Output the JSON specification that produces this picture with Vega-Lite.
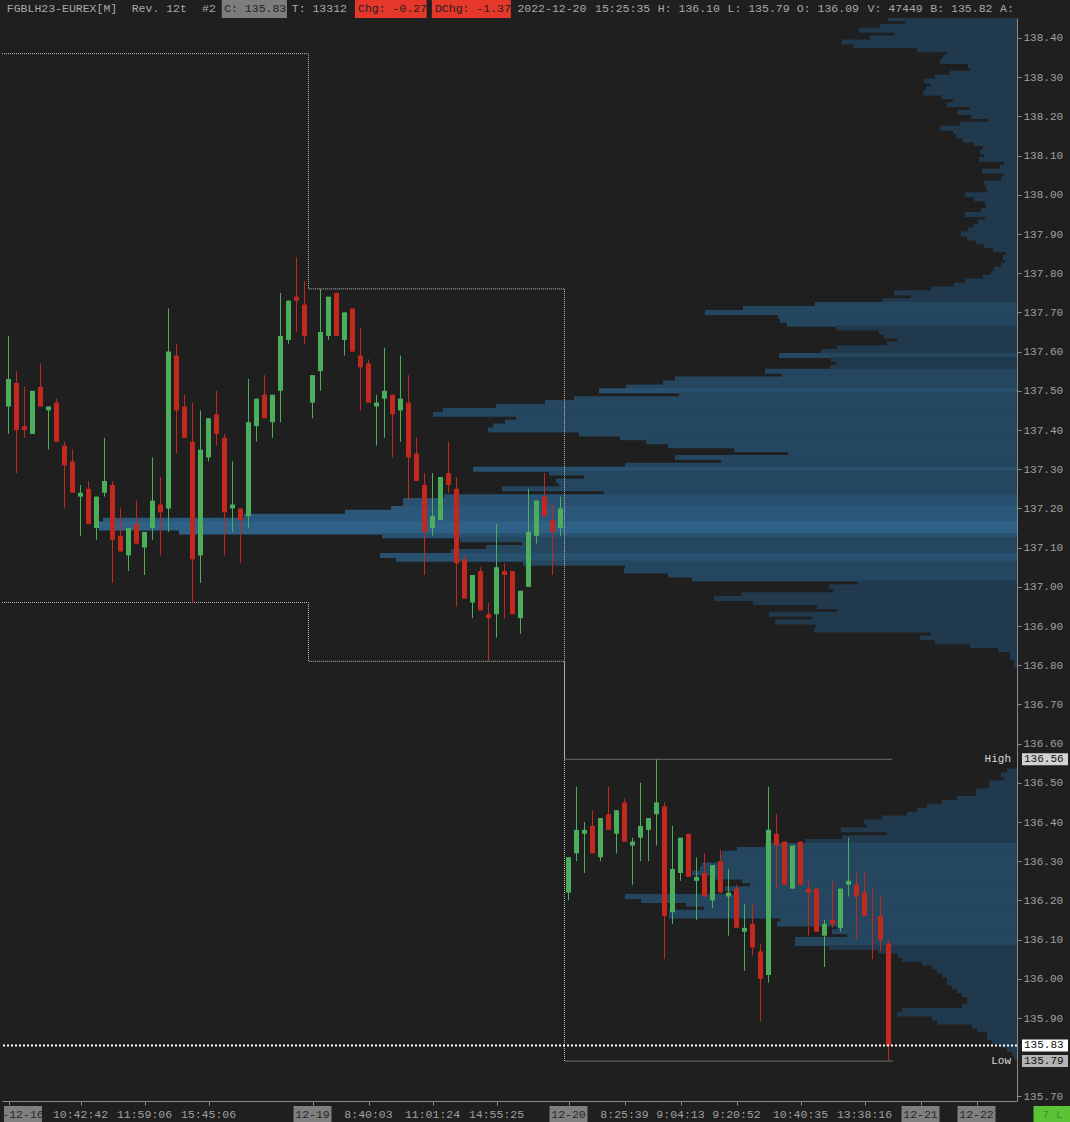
{
"$schema": "https://vega.github.io/schema/vega-lite/v6.json",
"background": "#1f1f1f",
"padding": 0,
"spacing": 0,
"config": {"view": {"stroke": null}},
"resolve": {"scale": {"x": "independent", "y": "independent", "color": "independent"}},
"datasets": {
"hdr": [
{"t":"FGBLH23-EUREX[M]","c":0},
{"t":"Rev. 12t","c":18.1},
{"t":"#2","c":28.3},
{"t":"C: 135.83","c":31.5,"b0":31.15,"b1":40.6},
{"t":"T: 13312","c":41.3},
{"t":"Chg: -0.27","c":50.9,"b0":50.45,"b1":60.85},
{"t":"DChg: -1.37","c":62.05,"b0":61.6,"b1":73.05},
{"t":"2022-12-20","c":74},
{"t":"15:25:35","c":85.25},
{"t":"H: 136.10","c":94.35},
{"t":"L: 135.79","c":104.45},
{"t":"O: 136.09","c":114.5},
{"t":"V: 47449","c":124.75},
{"t":"B: 135.82","c":133.85},
{"t":"A:","c":143.95}
],
"tl": [
{"t":"-12-16","i":1.81},{"t":"10:42:42","i":9},{"t":"11:59:06","i":17},{"t":"15:45:06","i":25},
{"t":"12-19","i":38},{"t":"8:40:03","i":45},{"t":"11:01:24","i":53},{"t":"14:55:25","i":61},
{"t":"12-20","i":70},{"t":"8:25:39","i":77},{"t":"9:04:13","i":84},{"t":"9:20:52","i":91},
{"t":"10:40:35","i":99},{"t":"13:38:16","i":107},{"t":"12-21","i":114},{"t":"12-22","i":121},{"t":"7 L","i":130.5}
],
"sess": [
{"i":-0.8125,"hi":138.36,"lo":136.96},
{"i":37.5,"hi":137.76,"lo":136.81},
{"i":69.5,"hi":136.56,"lo":135.79},
{"i":110.5,"hi":136.56,"lo":135.79}
],
"lv": [
{"p":136.56,"t":"136.56","n":"High"},
{"p":135.83,"t":"135.83","n":""},
{"p":135.79,"t":"135.79","n":"Low"}
],
"candles": [
{"i":0,"o":137.46,"h":137.64,"l":137.39,"c":137.53},
{"i":1,"o":137.52,"h":137.55,"l":137.29,"c":137.40},
{"i":2,"o":137.41,"h":137.51,"l":137.38,"c":137.40},
{"i":3,"o":137.39,"h":137.50,"l":137.39,"c":137.50},
{"i":4,"o":137.51,"h":137.57,"l":137.46,"c":137.46},
{"i":5,"o":137.45,"h":137.46,"l":137.35,"c":137.46},
{"i":6,"o":137.47,"h":137.48,"l":137.37,"c":137.37},
{"i":7,"o":137.36,"h":137.37,"l":137.20,"c":137.31},
{"i":8,"o":137.32,"h":137.35,"l":137.24,"c":137.24},
{"i":9,"o":137.23,"h":137.26,"l":137.13,"c":137.24},
{"i":10,"o":137.25,"h":137.27,"l":137.16,"c":137.16},
{"i":11,"o":137.15,"h":137.23,"l":137.12,"c":137.23},
{"i":12,"o":137.24,"h":137.38,"l":137.23,"c":137.27},
{"i":13,"o":137.26,"h":137.27,"l":137.01,"c":137.12},
{"i":14,"o":137.13,"h":137.20,"l":137.09,"c":137.09},
{"i":15,"o":137.08,"h":137.15,"l":137.04,"c":137.15},
{"i":16,"o":137.16,"h":137.22,"l":137.11,"c":137.11},
{"i":17,"o":137.10,"h":137.14,"l":137.03,"c":137.14},
{"i":18,"o":137.15,"h":137.33,"l":137.12,"c":137.22},
{"i":19,"o":137.21,"h":137.28,"l":137.08,"c":137.19},
{"i":20,"o":137.20,"h":137.71,"l":137.14,"c":137.60},
{"i":21,"o":137.59,"h":137.62,"l":137.34,"c":137.45},
{"i":22,"o":137.46,"h":137.49,"l":137.38,"c":137.38},
{"i":23,"o":137.37,"h":137.47,"l":136.96,"c":137.07},
{"i":24,"o":137.08,"h":137.45,"l":137.01,"c":137.35},
{"i":25,"o":137.33,"h":137.43,"l":137.32,"c":137.43},
{"i":26,"o":137.44,"h":137.50,"l":137.36,"c":137.39},
{"i":27,"o":137.38,"h":137.39,"l":137.08,"c":137.19},
{"i":28,"o":137.20,"h":137.32,"l":137.14,"c":137.21},
{"i":29,"o":137.20,"h":137.20,"l":137.06,"c":137.17},
{"i":30,"o":137.18,"h":137.53,"l":137.15,"c":137.42},
{"i":31,"o":137.41,"h":137.48,"l":137.37,"c":137.48},
{"i":32,"o":137.49,"h":137.54,"l":137.43,"c":137.43},
{"i":33,"o":137.42,"h":137.49,"l":137.38,"c":137.49},
{"i":34,"o":137.50,"h":137.75,"l":137.42,"c":137.64},
{"i":35,"o":137.63,"h":137.73,"l":137.62,"c":137.73},
{"i":36,"o":137.74,"h":137.84,"l":137.65,"c":137.73},
{"i":37,"o":137.72,"h":137.78,"l":137.62,"c":137.64},
{"i":38,"o":137.47,"h":137.54,"l":137.43,"c":137.54},
{"i":39,"o":137.55,"h":137.76,"l":137.50,"c":137.65},
{"i":40,"o":137.64,"h":137.74,"l":137.63,"c":137.74},
{"i":41,"o":137.75,"h":137.75,"l":137.64,"c":137.64},
{"i":42,"o":137.63,"h":137.70,"l":137.59,"c":137.70},
{"i":43,"o":137.71,"h":137.71,"l":137.60,"c":137.60},
{"i":44,"o":137.59,"h":137.66,"l":137.45,"c":137.56},
{"i":45,"o":137.57,"h":137.58,"l":137.47,"c":137.47},
{"i":46,"o":137.46,"h":137.49,"l":137.36,"c":137.47},
{"i":47,"o":137.48,"h":137.61,"l":137.38,"c":137.50},
{"i":48,"o":137.49,"h":137.49,"l":137.33,"c":137.44},
{"i":49,"o":137.45,"h":137.59,"l":137.37,"c":137.48},
{"i":50,"o":137.47,"h":137.54,"l":137.22,"c":137.33},
{"i":51,"o":137.34,"h":137.38,"l":137.27,"c":137.27},
{"i":52,"o":137.26,"h":137.29,"l":137.03,"c":137.14},
{"i":53,"o":137.15,"h":137.29,"l":137.13,"c":137.18},
{"i":54,"o":137.17,"h":137.28,"l":137.17,"c":137.28},
{"i":55,"o":137.29,"h":137.37,"l":137.24,"c":137.26},
{"i":56,"o":137.25,"h":137.28,"l":136.95,"c":137.06},
{"i":57,"o":137.07,"h":137.08,"l":136.97,"c":136.97},
{"i":58,"o":136.96,"h":137.03,"l":136.92,"c":137.03},
{"i":59,"o":137.04,"h":137.05,"l":136.94,"c":136.94},
{"i":60,"o":136.93,"h":136.96,"l":136.81,"c":136.92},
{"i":61,"o":136.93,"h":137.16,"l":136.87,"c":137.05},
{"i":62,"o":137.04,"h":137.06,"l":136.92,"c":137.03},
{"i":63,"o":137.04,"h":137.04,"l":136.93,"c":136.93},
{"i":64,"o":136.92,"h":136.99,"l":136.88,"c":136.99},
{"i":65,"o":137.00,"h":137.25,"l":137.00,"c":137.14},
{"i":66,"o":137.13,"h":137.22,"l":137.11,"c":137.22},
{"i":67,"o":137.23,"h":137.29,"l":137.18,"c":137.18},
{"i":68,"o":137.17,"h":137.21,"l":137.03,"c":137.14},
{"i":69,"o":137.15,"h":137.23,"l":137.13,"c":137.20},
{"i":70,"o":136.22,"h":136.31,"l":136.20,"c":136.31},
{"i":71,"o":136.32,"h":136.49,"l":136.30,"c":136.38},
{"i":72,"o":136.37,"h":136.40,"l":136.27,"c":136.38},
{"i":73,"o":136.39,"h":136.43,"l":136.32,"c":136.32},
{"i":74,"o":136.31,"h":136.41,"l":136.30,"c":136.41},
{"i":75,"o":136.42,"h":136.49,"l":136.38,"c":136.38},
{"i":76,"o":136.37,"h":136.43,"l":136.32,"c":136.43},
{"i":77,"o":136.45,"h":136.46,"l":136.35,"c":136.35},
{"i":78,"o":136.34,"h":136.36,"l":136.24,"c":136.35},
{"i":79,"o":136.36,"h":136.50,"l":136.30,"c":136.39},
{"i":80,"o":136.38,"h":136.41,"l":136.30,"c":136.41},
{"i":81,"o":136.42,"h":136.56,"l":136.34,"c":136.45},
{"i":82,"o":136.44,"h":136.45,"l":136.05,"c":136.16},
{"i":83,"o":136.17,"h":136.39,"l":136.14,"c":136.28},
{"i":84,"o":136.27,"h":136.36,"l":136.25,"c":136.36},
{"i":85,"o":136.37,"h":136.37,"l":136.26,"c":136.26},
{"i":86,"o":136.25,"h":136.31,"l":136.15,"c":136.26},
{"i":87,"o":136.27,"h":136.32,"l":136.21,"c":136.21},
{"i":88,"o":136.20,"h":136.29,"l":136.18,"c":136.29},
{"i":89,"o":136.30,"h":136.33,"l":136.22,"c":136.22},
{"i":90,"o":136.21,"h":136.28,"l":136.11,"c":136.22},
{"i":91,"o":136.23,"h":136.24,"l":136.13,"c":136.13},
{"i":92,"o":136.12,"h":136.19,"l":136.02,"c":136.13},
{"i":93,"o":136.14,"h":136.19,"l":136.06,"c":136.08},
{"i":94,"o":136.07,"h":136.09,"l":135.89,"c":136.00},
{"i":95,"o":136.01,"h":136.49,"l":135.99,"c":136.38},
{"i":96,"o":136.37,"h":136.42,"l":136.23,"c":136.34},
{"i":97,"o":136.35,"h":136.35,"l":136.24,"c":136.24},
{"i":98,"o":136.23,"h":136.34,"l":136.23,"c":136.34},
{"i":99,"o":136.35,"h":136.35,"l":136.24,"c":136.24},
{"i":100,"o":136.23,"h":136.25,"l":136.11,"c":136.22},
{"i":101,"o":136.23,"h":136.23,"l":136.12,"c":136.12},
{"i":102,"o":136.11,"h":136.15,"l":136.03,"c":136.14},
{"i":103,"o":136.15,"h":136.25,"l":136.13,"c":136.14},
{"i":104,"o":136.13,"h":136.23,"l":136.12,"c":136.23},
{"i":105,"o":136.24,"h":136.36,"l":136.21,"c":136.25},
{"i":106,"o":136.24,"h":136.27,"l":136.10,"c":136.21},
{"i":107,"o":136.22,"h":136.27,"l":136.16,"c":136.16},
{"i":108,"o":136.151,"h":136.23,"l":136.05,"c":136.149},
{"i":109,"o":136.16,"h":136.21,"l":136.07,"c":136.10},
{"i":110,"o":136.09,"h":136.10,"l":135.79,"c":135.83}
],
"prof": [
{"p":138.45,"v":129,"s":"out"},{"p":138.44,"v":112,"s":"out"},{"p":138.43,"v":137,"s":"out"},{"p":138.42,"v":158,"s":"out"},{"p":138.41,"v":123,"s":"out"},
{"p":138.40,"v":147,"s":"out"},{"p":138.39,"v":175,"s":"out"},{"p":138.38,"v":164,"s":"out"},{"p":138.37,"v":100,"s":"out"},{"p":138.36,"v":70,"s":"out"},
{"p":138.35,"v":74,"s":"out"},{"p":138.34,"v":77,"s":"out"},{"p":138.33,"v":49,"s":"out"},{"p":138.32,"v":47,"s":"out"},{"p":138.31,"v":67,"s":"out"},
{"p":138.30,"v":82,"s":"out"},{"p":138.29,"v":93,"s":"out"},{"p":138.28,"v":87,"s":"out"},{"p":138.27,"v":91,"s":"out"},{"p":138.26,"v":94,"s":"out"},
{"p":138.25,"v":76,"s":"out"},{"p":138.24,"v":64,"s":"out"},{"p":138.23,"v":70,"s":"out"},{"p":138.22,"v":47,"s":"out"},{"p":138.21,"v":60,"s":"out"},
{"p":138.20,"v":46,"s":"out"},{"p":138.19,"v":29,"s":"out"},{"p":138.18,"v":57,"s":"out"},{"p":138.17,"v":77,"s":"out"},{"p":138.16,"v":64,"s":"out"},
{"p":138.15,"v":61,"s":"out"},{"p":138.14,"v":54,"s":"out"},{"p":138.13,"v":43,"s":"out"},{"p":138.12,"v":34,"s":"out"},{"p":138.11,"v":37,"s":"out"},
{"p":138.10,"v":33,"s":"out"},{"p":138.09,"v":38,"s":"out"},{"p":138.08,"v":13,"s":"out"},{"p":138.07,"v":17,"s":"out"},{"p":138.06,"v":35,"s":"out"},
{"p":138.05,"v":13,"s":"out"},{"p":138.04,"v":16,"s":"out"},{"p":138.03,"v":33,"s":"out"},{"p":138.02,"v":31,"s":"out"},{"p":138.01,"v":30,"s":"out"},
{"p":138.00,"v":52,"s":"out"},{"p":137.99,"v":43,"s":"out"},{"p":137.98,"v":32,"s":"out"},{"p":137.97,"v":31,"s":"out"},{"p":137.96,"v":36,"s":"out"},
{"p":137.95,"v":52,"s":"out"},{"p":137.94,"v":32,"s":"out"},{"p":137.93,"v":39,"s":"out"},{"p":137.92,"v":44,"s":"out"},{"p":137.91,"v":49,"s":"out"},
{"p":137.90,"v":56,"s":"out"},{"p":137.89,"v":50,"s":"out"},{"p":137.88,"v":41,"s":"out"},{"p":137.87,"v":33,"s":"out"},{"p":137.86,"v":24,"s":"out"},
{"p":137.85,"v":11,"s":"out"},{"p":137.84,"v":14,"s":"out"},{"p":137.83,"v":12,"s":"out"},{"p":137.82,"v":16,"s":"out"},{"p":137.81,"v":23,"s":"out"},
{"p":137.80,"v":26,"s":"out"},{"p":137.79,"v":34,"s":"out"},{"p":137.78,"v":52,"s":"out"},{"p":137.77,"v":63,"s":"out"},{"p":137.76,"v":86,"s":"out"},
{"p":137.75,"v":123,"s":"out"},{"p":137.74,"v":106,"s":"out"},{"p":137.73,"v":135,"s":"out"},
{"p":137.72,"v":202,"s":"va"},{"p":137.71,"v":274,"s":"va"},{"p":137.70,"v":312,"s":"va"},{"p":137.69,"v":239,"s":"va"},{"p":137.68,"v":237,"s":"va"},{"p":137.67,"v":230,"s":"va"},
{"p":137.66,"v":181,"s":"out"},{"p":137.65,"v":138,"s":"out"},{"p":137.64,"v":133,"s":"out"},{"p":137.63,"v":120,"s":"out"},{"p":137.62,"v":130,"s":"out"},{"p":137.61,"v":180,"s":"out"},{"p":137.60,"v":196,"s":"out"},
{"p":137.59,"v":238,"s":"va"},
{"p":137.58,"v":186,"s":"out"},{"p":137.57,"v":181,"s":"out"},{"p":137.56,"v":187,"s":"out"},
{"p":137.55,"v":252,"s":"va"},{"p":137.54,"v":235,"s":"va"},{"p":137.53,"v":342,"s":"va"},{"p":137.52,"v":354,"s":"va"},{"p":137.51,"v":391,"s":"va"},
{"p":137.50,"v":418,"s":"hi"},
{"p":137.49,"v":338,"s":"va"},{"p":137.48,"v":443,"s":"va"},{"p":137.47,"v":472,"s":"va"},{"p":137.46,"v":521,"s":"va"},{"p":137.45,"v":574,"s":"va"},
{"p":137.44,"v":584,"s":"va"},{"p":137.43,"v":501,"s":"va"},{"p":137.42,"v":512,"s":"va"},{"p":137.41,"v":524,"s":"va"},{"p":137.40,"v":529,"s":"va"},
{"p":137.39,"v":438,"s":"va"},{"p":137.38,"v":397,"s":"va"},{"p":137.37,"v":371,"s":"va"},{"p":137.36,"v":349,"s":"va"},{"p":137.35,"v":283,"s":"va"},
{"p":137.34,"v":229,"s":"va"},{"p":137.33,"v":342,"s":"va"},{"p":137.32,"v":296,"s":"va"},{"p":137.31,"v":392,"s":"va"},
{"p":137.30,"v":544,"s":"hi"},
{"p":137.29,"v":468,"s":"va"},{"p":137.28,"v":433,"s":"va"},{"p":137.27,"v":461,"s":"va"},{"p":137.26,"v":458,"s":"va"},{"p":137.25,"v":515,"s":"va"},{"p":137.24,"v":413,"s":"va"},
{"p":137.23,"v":573,"s":"hi"},{"p":137.22,"v":614,"s":"hi"},{"p":137.21,"v":614,"s":"hi"},
{"p":137.20,"v":626,"s":"hi2"},{"p":137.19,"v":672,"s":"hi2"},{"p":137.18,"v":773,"s":"hi2"},{"p":137.17,"v":914,"s":"hi2"},
{"p":137.16,"v":918,"s":"poc"},{"p":137.15,"v":918,"s":"poc"},{"p":137.14,"v":838,"s":"poc"},
{"p":137.13,"v":635,"s":"hi"},
{"p":137.12,"v":557,"s":"va"},{"p":137.11,"v":495,"s":"va"},{"p":137.10,"v":531,"s":"va"},{"p":137.09,"v":566,"s":"va"},
{"p":137.08,"v":637,"s":"hi"},{"p":137.07,"v":621,"s":"hi"},
{"p":137.06,"v":494,"s":"va"},{"p":137.05,"v":392,"s":"va"},{"p":137.04,"v":393,"s":"va"},{"p":137.03,"v":349,"s":"va"},{"p":137.02,"v":325,"s":"va"},
{"p":137.01,"v":160,"s":"out"},{"p":137.00,"v":188,"s":"out"},{"p":136.99,"v":184,"s":"out"},{"p":136.98,"v":275,"s":"out"},{"p":136.97,"v":303,"s":"out"},
{"p":136.96,"v":264,"s":"out"},{"p":136.95,"v":200,"s":"out"},{"p":136.94,"v":180,"s":"out"},{"p":136.93,"v":248,"s":"out"},{"p":136.92,"v":205,"s":"out"},
{"p":136.91,"v":242,"s":"out"},{"p":136.90,"v":201,"s":"out"},{"p":136.89,"v":203,"s":"out"},{"p":136.88,"v":86,"s":"out"},{"p":136.87,"v":97,"s":"out"},
{"p":136.86,"v":82,"s":"out"},{"p":136.85,"v":47,"s":"out"},{"p":136.84,"v":19,"s":"out"},{"p":136.83,"v":7,"s":"out"},{"p":136.82,"v":7,"s":"out"},
{"p":136.81,"v":3,"s":"out"},{"p":136.80,"v":3,"s":"out"},
{"p":136.53,"v":10,"s":"out"},{"p":136.52,"v":16,"s":"out"},{"p":136.51,"v":13,"s":"out"},{"p":136.50,"v":28,"s":"out"},{"p":136.49,"v":28,"s":"out"},
{"p":136.48,"v":41,"s":"out"},{"p":136.47,"v":41,"s":"out"},{"p":136.46,"v":60,"s":"out"},{"p":136.45,"v":75,"s":"out"},{"p":136.44,"v":90,"s":"out"},
{"p":136.43,"v":100,"s":"out"},{"p":136.42,"v":110,"s":"out"},{"p":136.41,"v":135,"s":"out"},{"p":136.40,"v":153,"s":"out"},{"p":136.39,"v":150,"s":"out"},
{"p":136.38,"v":176,"s":"out"},{"p":136.37,"v":130,"s":"out"},{"p":136.36,"v":175,"s":"out"},{"p":136.35,"v":212,"s":"out"},
{"p":136.34,"v":252,"s":"va"},{"p":136.33,"v":280,"s":"va"},{"p":136.32,"v":295,"s":"va"},{"p":136.31,"v":297,"s":"va"},{"p":136.30,"v":295,"s":"va"},
{"p":136.29,"v":315,"s":"va"},{"p":136.28,"v":317,"s":"va"},{"p":136.27,"v":325,"s":"va"},{"p":136.26,"v":302,"s":"va"},{"p":136.25,"v":275,"s":"va"},
{"p":136.24,"v":267,"s":"va"},{"p":136.23,"v":292,"s":"va"},{"p":136.22,"v":282,"s":"va"},{"p":136.21,"v":392,"s":"va"},{"p":136.20,"v":376,"s":"va"},
{"p":136.19,"v":331,"s":"va"},{"p":136.18,"v":313,"s":"va"},{"p":136.17,"v":348,"s":"va"},{"p":136.16,"v":348,"s":"va"},{"p":136.15,"v":237,"s":"va"},
{"p":136.14,"v":240,"s":"va"},{"p":136.13,"v":180,"s":"va"},{"p":136.12,"v":185,"s":"va"},{"p":136.11,"v":170,"s":"va"},{"p":136.10,"v":222,"s":"va"},{"p":136.09,"v":222,"s":"va"},
{"p":136.08,"v":188,"s":"out"},{"p":136.07,"v":139,"s":"out"},{"p":136.06,"v":119,"s":"out"},{"p":136.05,"v":115,"s":"out"},{"p":136.04,"v":95,"s":"out"},
{"p":136.03,"v":85,"s":"out"},{"p":136.02,"v":80,"s":"out"},{"p":136.01,"v":75,"s":"out"},{"p":136.00,"v":70,"s":"out"},{"p":135.99,"v":70,"s":"out"},
{"p":135.98,"v":65,"s":"out"},{"p":135.97,"v":60,"s":"out"},{"p":135.96,"v":55,"s":"out"},{"p":135.95,"v":50,"s":"out"},{"p":135.94,"v":50,"s":"out"},
{"p":135.93,"v":55,"s":"out"},{"p":135.92,"v":115,"s":"out"},{"p":135.91,"v":120,"s":"out"},{"p":135.90,"v":85,"s":"out"},{"p":135.89,"v":80,"s":"out"},
{"p":135.88,"v":45,"s":"out"},{"p":135.87,"v":40,"s":"out"},{"p":135.86,"v":30,"s":"out"},{"p":135.85,"v":30,"s":"out"},{"p":135.84,"v":25,"s":"out"},
{"p":135.83,"v":15,"s":"out"},{"p":135.82,"v":10,"s":"out"},{"p":135.81,"v":5,"s":"out"},{"p":135.80,"v":3,"s":"out"}
]
},
"vconcat": [
{
"width": 1070, "height": 18,
"data": {"name": "hdr"},
"layer": [
{"transform": [{"filter": "isValid(datum.b0)"}],
 "mark": {"type": "rect"},
 "encoding": {
  "x": {"field": "b0", "type": "quantitative", "scale": {"domain": [-0.696, 154.38], "nice": false, "zero": false, "padding": 0}, "axis": null, "title": null},
  "x2": {"field": "b1"},
  "color": {"condition": {"test": "indexof(datum.t,'Chg')>=0", "value": "#e6372b"}, "value": "#7d7d7d"}
 }},
{"mark": {"type": "text", "align": "left", "baseline": "middle", "font": "Liberation Mono", "fontSize": 11.5},
 "encoding": {
  "x": {"field": "c", "type": "quantitative", "scale": {"domain": [-0.696, 154.38], "nice": false, "zero": false, "padding": 0}, "axis": null, "title": null},
  "text": {"field": "t"},
  "color": {"condition": {"test": "isValid(datum.b0)", "value": "#222222"}, "value": "#a9a9a9"}
 }}
]
},
{
"width": 1015, "height": 1083,
"resolve": {"scale": {"x": "independent"}},
"layer": [
{"data": {"name": "prof"},
 "mark": {"type": "bar", "orient": "horizontal", "size": 5, "clip": true, "opacity": 1},
 "encoding": {
  "y": {"field": "p", "type": "quantitative", "title": null,
        "scale": {"domain": [135.68827, 138.45102], "nice": false, "zero": false, "padding": 0},
        "axis": {"orient": "right", "values": [135.7,135.9,136.0,136.1,136.2,136.3,136.4,136.5,136.6,136.7,136.8,136.9,137.0,137.1,137.2,137.3,137.4,137.5,137.6,137.7,137.8,137.9,138.0,138.1,138.2,138.3,138.4],
                 "format": ".2f", "grid": false, "title": null, "labelFont": "Liberation Mono", "labelFontSize": 11, "labelColor": "#a0a0a0",
                 "tickSize": 4, "tickColor": "#8a8a8a", "domainColor": "#8a8a8a", "labelPadding": 2, "labelOverlap": false, "labelFlush": false}},
  "x": {"field": "v", "type": "quantitative", "scale": {"domain": [0, 1015], "reverse": true, "nice": false, "zero": false, "padding": 0}, "axis": null, "title": null},
  "x2": {"datum": 0},
  "color": {"field": "s", "type": "nominal", "legend": null,
            "scale": {"domain": ["out","va","hi","hi2","poc"], "range": ["#21394d","#24465e","#285170","#2b577a","#2f6186"]}}
 }},
{"data": {"name": "sess"},
 "mark": {"type": "line", "interpolate": "step-after", "stroke": "#bdbdbd", "strokeWidth": 1, "strokeDash": [1,1]},
 "encoding": {
  "x": {"field": "i", "type": "quantitative", "scale": {"domain": [-0.8125, 126.0625], "nice": false, "zero": false, "padding": 0}, "axis": null, "title": null},
  "y": {"field": "hi", "type": "quantitative", "scale": {"domain": [135.68827, 138.45102], "nice": false, "zero": false, "padding": 0}, "title": null}
 }},
{"data": {"name": "sess"},
 "mark": {"type": "line", "interpolate": "step-after", "stroke": "#bdbdbd", "strokeWidth": 1, "strokeDash": [1,1]},
 "encoding": {
  "x": {"field": "i", "type": "quantitative", "scale": {"domain": [-0.8125, 126.0625], "nice": false, "zero": false, "padding": 0}, "axis": null, "title": null},
  "y": {"field": "lo", "type": "quantitative", "scale": {"domain": [135.68827, 138.45102], "nice": false, "zero": false, "padding": 0}, "title": null}
 }},
{"data": {"name": "candles"},
 "mark": {"type": "rule", "strokeWidth": 1},
 "encoding": {
  "x": {"field": "i", "type": "quantitative", "scale": {"domain": [-0.8125, 126.0625], "nice": false, "zero": false, "padding": 0}, "title": null,
        "axis": {"values": [0,9,17,25,38,45,53,61,70,77,84,91,99,107,114,121], "labels": false, "grid": false, "title": null, "tickSize": 4, "tickColor": "#8a8a8a", "domainColor": "#8a8a8a"}},
  "y": {"field": "l", "type": "quantitative", "scale": {"domain": [135.68827, 138.45102], "nice": false, "zero": false, "padding": 0}, "title": null},
  "y2": {"field": "h"},
  "color": {"condition": {"test": "datum.c >= datum.o", "value": "#4aae5a"}, "value": "#c2281e"}
 }},
{"data": {"name": "candles"},
 "mark": {"type": "bar", "size": 5, "opacity": 1},
 "encoding": {
  "x": {"field": "i", "type": "quantitative", "scale": {"domain": [-0.8125, 126.0625], "nice": false, "zero": false, "padding": 0}, "axis": null, "title": null},
  "y": {"field": "o", "type": "quantitative", "scale": {"domain": [135.68827, 138.45102], "nice": false, "zero": false, "padding": 0}, "title": null},
  "y2": {"field": "c"},
  "color": {"condition": {"test": "datum.c >= datum.o", "value": "#4aae5a"}, "value": "#c2281e"}
 }},
{"data": {"values": [{"p": 135.83}]},
 "mark": {"type": "rule", "stroke": "#ffffff", "strokeWidth": 2, "strokeDash": [2,2]},
 "encoding": {
  "y": {"field": "p", "type": "quantitative", "scale": {"domain": [135.68827, 138.45102], "nice": false, "zero": false, "padding": 0}, "title": null}
 }},
{"data": {"name": "lv"},
 "mark": {"type": "tick", "orient": "horizontal", "size": 46, "thickness": 12, "opacity": 1},
 "encoding": {
  "x": {"datum": 129.5625, "type": "quantitative", "scale": {"domain": [-0.8125, 126.0625], "nice": false, "zero": false, "padding": 0}, "axis": null, "title": null},
  "y": {"field": "p", "type": "quantitative", "scale": {"domain": [135.68827, 138.45102], "nice": false, "zero": false, "padding": 0}, "title": null},
  "color": {"condition": [{"test": "datum.p == 135.83", "value": "#ffffff"}, {"test": "datum.p == 136.56", "value": "#d2d2d2"}], "value": "#b4b4b4"}
 }},
{"data": {"name": "lv"},
 "mark": {"type": "text", "align": "left", "baseline": "middle", "font": "Liberation Mono", "fontSize": 11, "color": "#111111"},
 "encoding": {
  "x": {"datum": 126.9375, "type": "quantitative", "scale": {"domain": [-0.8125, 126.0625], "nice": false, "zero": false, "padding": 0}, "axis": null, "title": null},
  "y": {"field": "p", "type": "quantitative", "scale": {"domain": [135.68827, 138.45102], "nice": false, "zero": false, "padding": 0}, "title": null},
  "text": {"field": "t"}
 }},
{"data": {"name": "lv"},
 "mark": {"type": "text", "align": "right", "baseline": "middle", "font": "Liberation Mono", "fontSize": 11, "color": "#d8d8d8"},
 "encoding": {
  "x": {"datum": 125.3125, "type": "quantitative", "scale": {"domain": [-0.8125, 126.0625], "nice": false, "zero": false, "padding": 0}, "axis": null, "title": null},
  "y": {"field": "p", "type": "quantitative", "scale": {"domain": [135.68827, 138.45102], "nice": false, "zero": false, "padding": 0}, "title": null},
  "text": {"field": "n"}
 }}
]
},
{
"width": 1015, "height": 17,
"data": {"name": "tl"},
"layer": [
{"transform": [{"filter": "indexof(datum.t, ':') < 0"}],
 "mark": {"type": "tick", "thickness": 38, "size": 17, "opacity": 1},
 "encoding": {
  "x": {"field": "i", "type": "quantitative", "scale": {"domain": [-0.8125, 126.0625], "nice": false, "zero": false, "padding": 0}, "axis": null, "title": null},
  "color": {"condition": {"test": "datum.t == '7 L'", "value": "#5cc236"}, "value": "#7f7f7f"}
 }},
{"mark": {"type": "text", "align": "center", "baseline": "middle", "font": "Liberation Mono", "fontSize": 11.5},
 "encoding": {
  "x": {"field": "i", "type": "quantitative", "scale": {"domain": [-0.8125, 126.0625], "nice": false, "zero": false, "padding": 0}, "axis": null, "title": null},
  "text": {"field": "t"},
  "color": {"condition": [{"test": "datum.t == '7 L'", "value": "#3d8f2b"}, {"test": "indexof(datum.t, ':') < 0", "value": "#2a2a2a"}], "value": "#a0a0a0"}
 }}
]
}
]
}
